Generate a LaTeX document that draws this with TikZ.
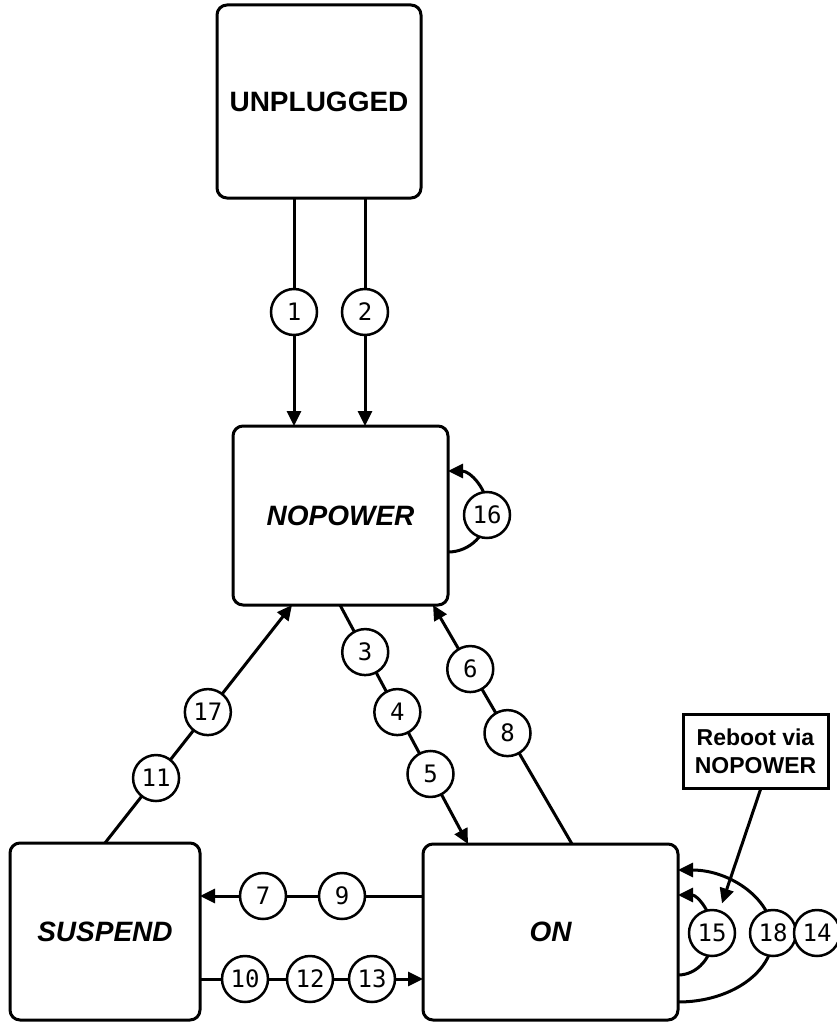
\documentclass[tikz,border=0pt]{standalone}
\usepackage{fontspec}
\setmainfont{Liberation Sans}
\newfontfamily\numfont{DejaVu Sans Mono}
\usetikzlibrary{arrows.meta,calc}
\pgfdeclarelayer{bg}
\pgfsetlayers{bg,main}
\begin{document}
\begin{tikzpicture}[x=1pt,y=-1pt,
  state/.style={draw, line width=3pt, rounded corners=10pt, outer sep=0pt, inner sep=0pt,
    font=\fontsize{28}{32}\selectfont\bfseries},
  istate/.style={state, font=\fontsize{28}{32}\selectfont\bfseries\itshape},
  note/.style={draw, line width=3pt, outer sep=0pt, inner sep=0pt, align=center,
    font=\fontsize{23}{28}\selectfont\bfseries},
  num/.style={draw, circle, line width=2.5pt, fill=white, minimum size=46pt, inner sep=0pt,
    font=\numfont\fontsize{24}{24}\selectfont},
  conn/.style={draw, line width=3pt},
  arr/.style={-{Triangle[length=15pt,width=14pt]}}
]
\useasboundingbox (0,0) rectangle (837,1022);

% states
\node[state, minimum width=204pt, minimum height=193pt] (unplugged) at (319,101.5) {UNPLUGGED};
\node[istate, minimum width=215pt, minimum height=179pt] (nopower) at (340.5,515.5) {NOPOWER};
\node[istate, minimum width=190pt, minimum height=177pt] (suspend) at (105,931.5) {SUSPEND};
\node[istate, minimum width=255pt, minimum height=176pt] (on) at (550.5,932) {ON};
\node[note, minimum width=145pt, minimum height=74pt] (reboot) at (755.5,751) {Reboot via\\NOPOWER};

% end points on box borders
\coordinate (a3) at ($(nopower.south west)+(107,0)$);
\coordinate (b5) at ($(on.north west)+(45,0)$);
\coordinate (a6) at ($(on.north west)+(149,0)$);
\coordinate (b6) at ($(nopower.south west)+(200,0)$);
\coordinate (a11) at ($(suspend.north west)+(95,0)$);
\coordinate (b17) at ($(nopower.south west)+(59,0)$);

% transition labels
\node[num] (c1) at (294,312) {1};
\node[num] (c2) at (365,312) {2};
\node[num] (c3) at ($(a3)!0.197!(b5)$) {3};
\node[num] (c4) at ($(a3)!0.448!(b5)$) {4};
\node[num] (c5) at ($(a3)!0.707!(b5)$) {5};
\node[num] (c6) at ($(a6)!0.732!(b6)$) {6};
\node[num] (c8) at ($(a6)!0.464!(b6)$) {8};
\node[num] (c11) at ($(a11)!0.273!(b17)$) {11};
\node[num] (c17) at ($(a11)!0.55!(b17)$) {17};
\node[num] (c7) at (263,896) {7};
\node[num] (c9) at (342,896) {9};
\node[num] (c10) at (245,979) {10};
\node[num] (c12) at (310,979) {12};
\node[num] (c13) at (372,979) {13};
\node[num] (c16) at (487,515) {16};
\node[num] (c15) at (712,933) {15};
\node[num] (c18) at (773,933) {18};
\node[num] (c14) at (817,933) {14};

\begin{pgfonlayer}{bg}
\draw[conn,arr] (c1 |- unplugged.south) -- (c1 |- nopower.north);
\draw[conn,arr] (c2 |- unplugged.south) -- (c2 |- nopower.north);
\draw[conn,arr] (a3) -- (b5);
\draw[conn,arr] (a6) -- (b6);
\draw[conn,arr] (a11) -- (b17);
\draw[conn,arr] ($(on.north west)+(0,52)$) -- ($(suspend.north east)+(0,53)$);
\draw[conn,arr] ($(suspend.north east)+(0,136)$) -- ($(on.north west)+(0,135)$);
\draw[conn,arr] ($(nopower.south east)+(0,-53)$) arc[start angle=90,end angle=-90,x radius=40,y radius=40.5];
\draw[conn,arr] ($(on.north east)+(0,131)$) arc[start angle=90,end angle=-90,x radius=35,y radius=40];
\draw[conn,arr] ($(on.north east)+(0,158)$) arc[start angle=90,end angle=-90,x radius=95,y radius=66];
\end{pgfonlayer}
\draw[conn,arr,shorten >=7pt] ($(reboot.south west)+(78,0)$) -- (c15);
\end{tikzpicture}
\end{document}
